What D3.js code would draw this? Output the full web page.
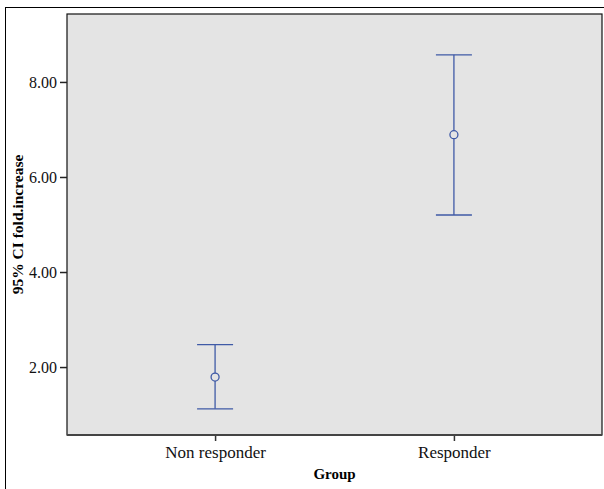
<!DOCTYPE html>
<html>
<head>
<meta charset="utf-8">
<script src="https://cdn.jsdelivr.net/npm/d3@7"></script>
<style>
  body { margin: 0; background: #fff; }
  svg text { font-family: "Liberation Serif", "Times New Roman", serif; }
</style>
</head>
<body>
<div id="visualization"></div>
<script>
// Data
const groups = ["Non responder", "Responder"];
const means = [1.79, 6.89];
const lowers = [1.12, 5.20];
const uppers = [2.47, 8.57];
const yTicks = [2, 4, 6, 8];

const width = 604, height = 489;
const plot = { left: 67, top: 14, right: 602, bottom: 435 };

const svg = d3.select("#visualization")
    .append("svg")
    .attr("width", width)
    .attr("height", height);

// outer frame
svg.append("rect")
    .attr("x", 5.5).attr("y", 7.5)
    .attr("width", 610).attr("height", 500)
    .attr("fill", "none")
    .attr("stroke", "#000")
    .attr("stroke-width", 1);

const xScale = d3.scalePoint()
    .domain(groups)
    .range([plot.left, plot.right])
    .padding(0.62);

const yScale = d3.scaleLinear()
    .domain([0.57, 9.43])
    .range([plot.bottom, plot.top]);

// plot area
svg.append("rect")
    .attr("x", plot.left).attr("y", plot.top)
    .attr("width", plot.right - plot.left)
    .attr("height", plot.bottom - plot.top)
    .attr("fill", "#e4e4e4")
    .attr("stroke", "#111")
    .attr("stroke-width", 1.2);

// y axis
const yAxis = svg.append("g")
    .attr("transform", `translate(${plot.left},0)`)
    .call(d3.axisLeft(yScale).tickValues(yTicks).tickFormat(d3.format(".2f")).tickSize(7).tickPadding(3));
yAxis.select(".domain").remove();
yAxis.selectAll(".tick line").attr("stroke", "#222").attr("stroke-width", 1.5);
yAxis.selectAll(".tick text")
    .attr("fill", "#111")
    .style("font-size", "16px");

// x axis
const xAxis = svg.append("g")
    .attr("transform", `translate(0,${plot.bottom})`)
    .call(d3.axisBottom(xScale).tickSize(6).tickPadding(5));
xAxis.select(".domain").remove();
xAxis.selectAll(".tick line").attr("stroke", "#333").attr("stroke-width", 1.5);
xAxis.selectAll(".tick text")
    .attr("fill", "#111")
    .style("font-size", "17px");

// bottom axis line (thicker)
svg.append("line")
    .attr("x1", plot.left).attr("x2", plot.right)
    .attr("y1", plot.bottom).attr("y2", plot.bottom)
    .attr("stroke", "#444")
    .attr("stroke-width", 2);

// axis titles
svg.append("text")
    .attr("x", (plot.left + plot.right) / 2)
    .attr("y", 479)
    .attr("text-anchor", "middle")
    .style("font-size", "15px")
    .style("font-weight", "bold")
    .text("Group");

svg.append("text")
    .attr("transform", `translate(23,${(plot.top + plot.bottom) / 2}) rotate(-90)`)
    .attr("text-anchor", "middle")
    .style("font-size", "15.5px")
    .style("font-weight", "bold")
    .text("95% CI fold.increase");

// error bars
const blue = "#3f5aa6";
const capHalf = 18;
const bars = svg.append("g")
    .selectAll("g")
    .data(groups.map((g, i) => ({ g, mean: means[i], lo: lowers[i], hi: uppers[i] })))
    .enter()
    .append("g");

bars.append("line")
    .attr("x1", d => xScale(d.g)).attr("x2", d => xScale(d.g))
    .attr("y1", d => yScale(d.hi)).attr("y2", d => yScale(d.lo))
    .attr("stroke", blue).attr("stroke-width", 1.3);

bars.append("line")
    .attr("x1", d => xScale(d.g) - capHalf).attr("x2", d => xScale(d.g) + capHalf)
    .attr("y1", d => yScale(d.hi)).attr("y2", d => yScale(d.hi))
    .attr("stroke", blue).attr("stroke-width", 1.3);

bars.append("line")
    .attr("x1", d => xScale(d.g) - capHalf).attr("x2", d => xScale(d.g) + capHalf)
    .attr("y1", d => yScale(d.lo)).attr("y2", d => yScale(d.lo))
    .attr("stroke", blue).attr("stroke-width", 1.3);

bars.append("circle")
    .attr("cx", d => xScale(d.g))
    .attr("cy", d => yScale(d.mean))
    .attr("r", 4)
    .attr("fill", "#e4e4e4")
    .attr("stroke", blue)
    .attr("stroke-width", 1.3);
</script>
</body>
</html>
